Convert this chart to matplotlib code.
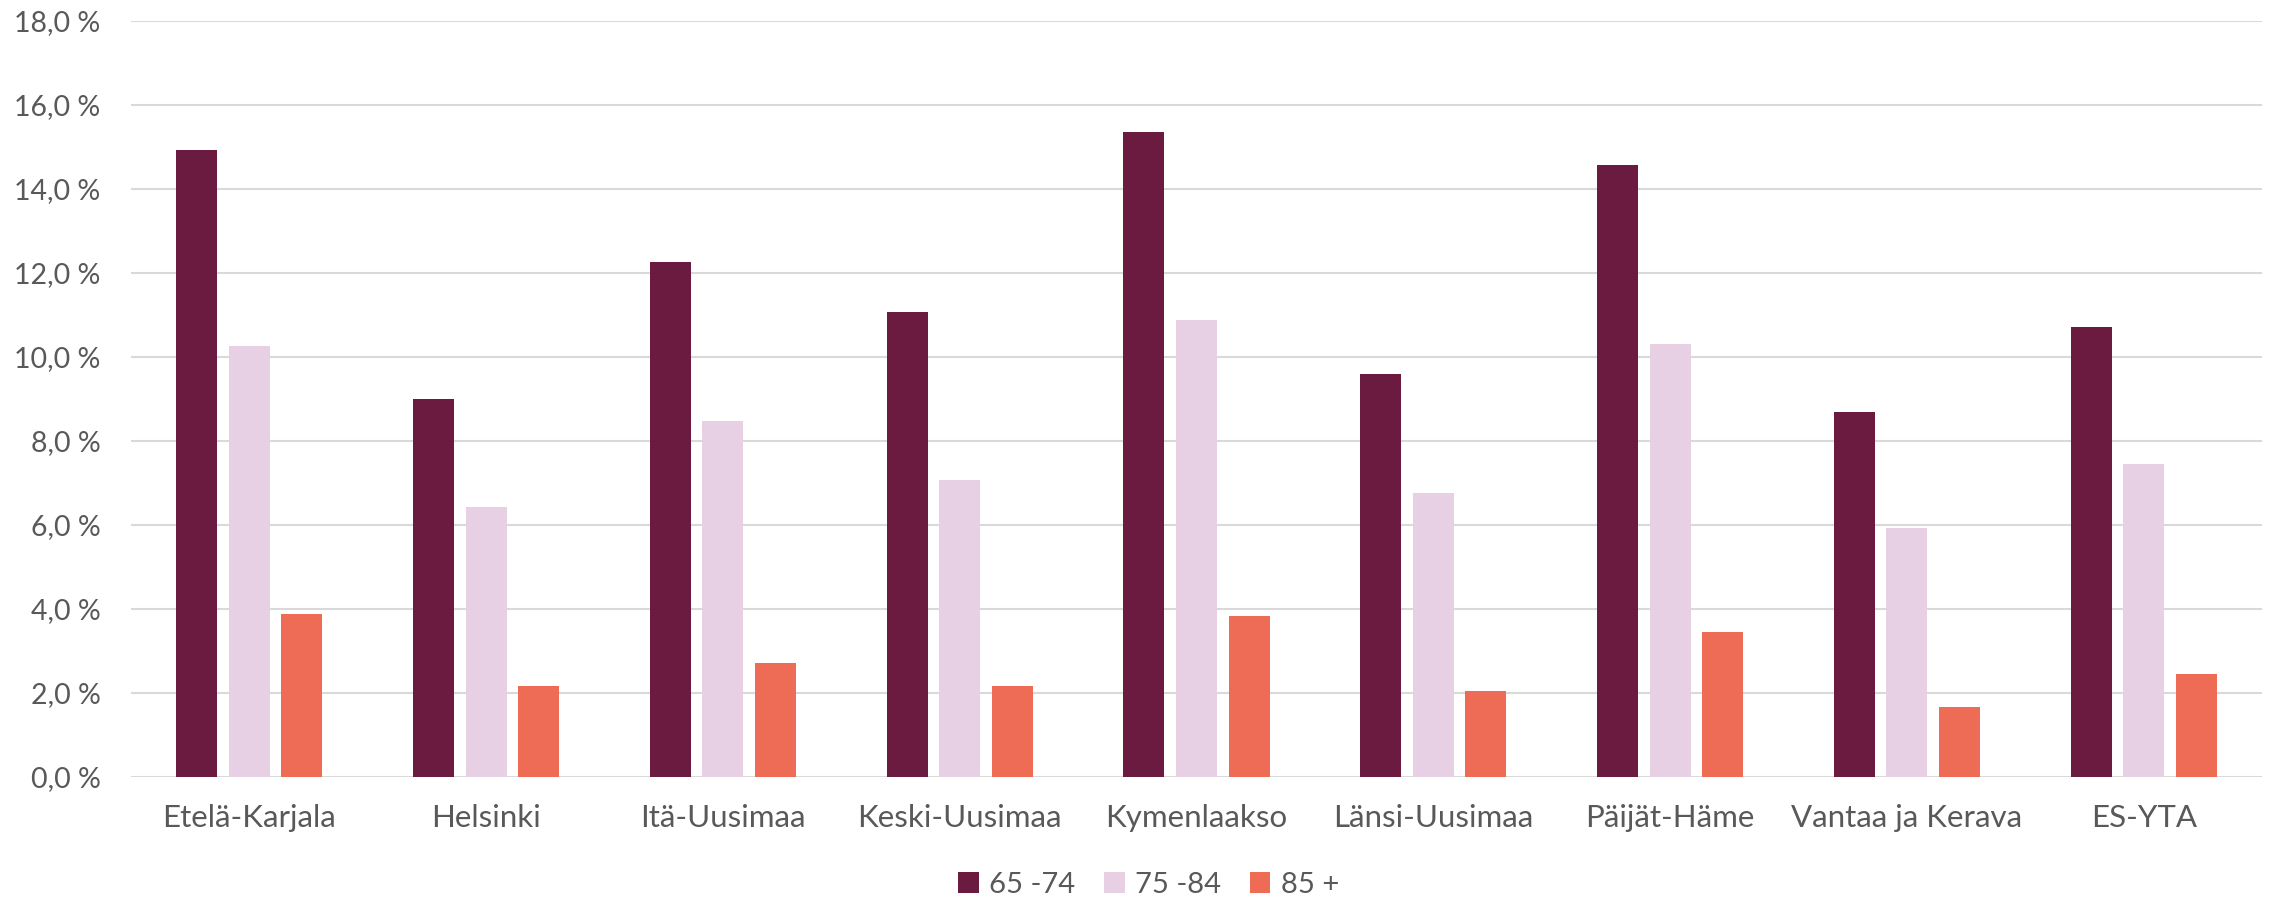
import matplotlib

matplotlib.use("Agg")
import matplotlib.pyplot as plt  # noqa: E402
import numpy as np  # noqa: E402
from matplotlib.patches import Patch  # noqa: E402

plt.rcParams["font.family"] = ["Lato", "DejaVu Sans"]

regions = ["Etelä-Karjala", "Helsinki", "Itä-Uusimaa", "Keski-Uusimaa", "Kymenlaakso",
           "Länsi-Uusimaa", "Päijät-Häme", "Vantaa ja Kerava", "ES-YTA"]
age_65_74 = [14.93, 9.00, 12.25, 11.07, 15.34, 9.59, 14.56, 8.69, 10.70]
age_75_84 = [10.25, 6.41, 8.48, 7.07, 10.87, 6.76, 10.31, 5.93, 7.45]
age_85 = [3.88, 2.15, 2.70, 2.17, 3.83, 2.03, 3.45, 1.66, 2.44]

series = [
    ("65 -74", age_65_74, "#6B1A40"),
    ("75 -84", age_75_84, "#E7D0E4"),
    ("85 +", age_85, "#EE6C56"),
]

TXT = "#595959"

fig = plt.figure(figsize=(22.7, 9.01), dpi=100)
ax = fig.add_axes([0.0577, 0.138, 0.9388, 0.839])

x = np.arange(len(regions))
offsets = [-0.222, 0.0, 0.222]
for (label, vals, color), off in zip(series, offsets):
    ax.bar(x + off, vals, width=0.173, color=color, zorder=3)

ax.set_xlim(-0.5, len(regions) - 0.5)
ax.set_ylim(0, 18)
ax.set_yticks(np.arange(0, 19, 2))
ax.set_yticklabels([f"{v:.1f} %".replace(".", ",") for v in np.arange(0, 19, 2)])
ax.set_xticks(x)
ax.set_xticklabels(regions)

ax.grid(axis="y", color="#D9D9D9", linewidth=1.5, zorder=0)
ax.set_axisbelow(True)
for s in ax.spines.values():
    s.set_visible(False)
ax.tick_params(axis="both", length=0, colors=TXT)
ax.tick_params(axis="y", pad=22, labelsize=20.5)
ax.tick_params(axis="x", pad=20, labelsize=22.5)

handles = [Patch(facecolor=c, edgecolor="none", label=l) for l, _, c in series]
fig.legend(handles=handles, loc="center", bbox_to_anchor=(0.506, 0.018), ncol=3,
           frameon=False, fontsize=21, labelcolor=TXT, handlelength=0.7,
           handleheight=0.7, handletextpad=0.35, columnspacing=1.0)

fig.savefig("out.png", dpi=100)
